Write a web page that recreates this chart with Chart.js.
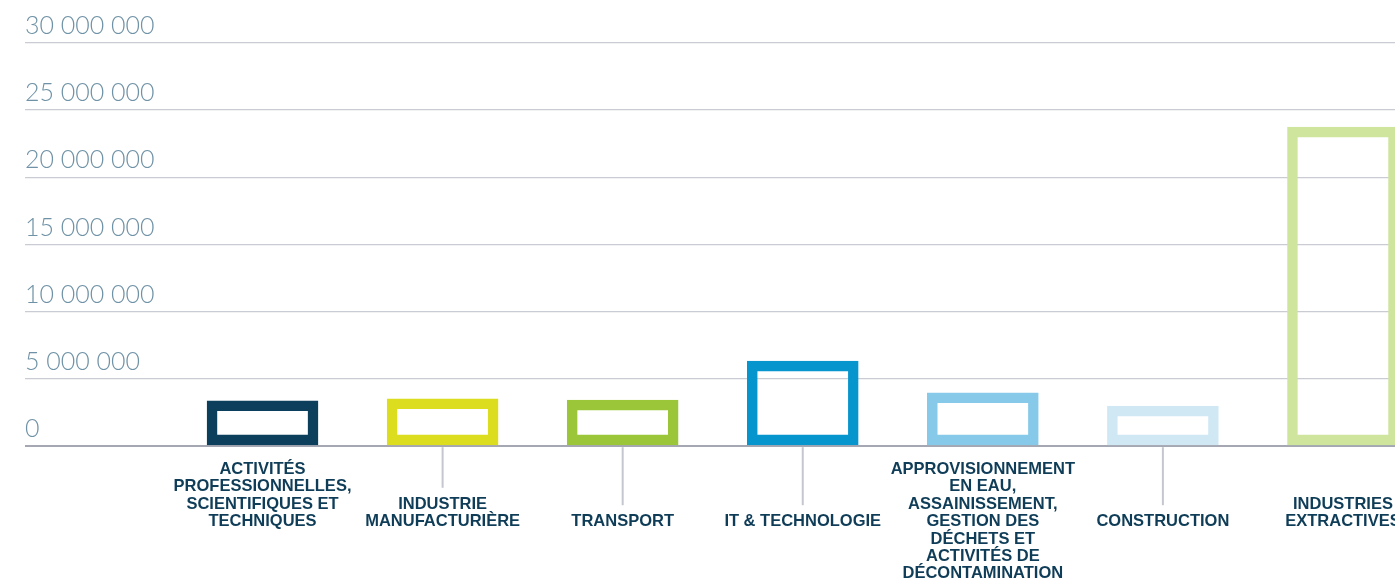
<!DOCTYPE html>
<html>
<head>
<meta charset="utf-8">
<script src="https://cdn.jsdelivr.net/npm/chart.js@4"></script>
<style>
  html, body { margin: 0; padding: 0; background: #ffffff; overflow: hidden; }
  #wrap { position: relative; width: 1433px; height: 581px; }
</style>
</head>
<body>
<div id="wrap"><canvas id="c"></canvas></div>
<script>
// ---- data ----
const categories = [
  ["ACTIVITÉS", "PROFESSIONNELLES,", "SCIENTIFIQUES ET", "TECHNIQUES"],
  ["INDUSTRIE", "MANUFACTURIÈRE"],
  ["TRANSPORT"],
  ["IT & TECHNOLOGIE"],
  ["APPROVISIONNEMENT", "EN EAU,", "ASSAINISSEMENT,", "GESTION DES", "DÉCHETS ET", "ACTIVITÉS DE", "DÉCONTAMINATION"],
  ["CONSTRUCTION"],
  ["INDUSTRIES", "EXTRACTIVES"]
];
const values = [3400000, 3550000, 3450000, 6350000, 4000000, 3000000, 23750000];
const yTicks = [0, 5000000, 10000000, 15000000, 20000000, 25000000, 30000000];
const barColors = ["#0b3f5b", "#dcdd1f", "#9bc63a", "#0795cd", "#86c9e8", "#cfe8f4", "#cfe59d"];

const LABEL_COLOR = "#0f3d58";
const LABEL_FONT = "bold 16.5px 'Liberation Sans', Arial, sans-serif";
const LINE_H = 17.4;

const fmt = v => String(Math.round(v)).replace(/\B(?=(\d{3})+(?!\d))/g, " ");

const xLabelsPlugin = {
  id: "xLabels",
  afterDraw(chart) {
    const ctx = chart.ctx;
    const xs = chart.scales.x;
    const bottom = chart.chartArea.bottom;
    const lastBaseline = bottom + 80;
    ctx.save();
    ctx.font = LABEL_FONT;
    ctx.textAlign = "center";
    ctx.textBaseline = "alphabetic";
    categories.forEach((lines, i) => {
      const x = xs.getPixelForValue(i);
      const n = lines.length;
      const shown = Math.min(n, 4);
      const firstBaseline = lastBaseline - (shown - 1) * LINE_H;
      let widest = 0;
      lines.forEach(l => { widest = Math.max(widest, ctx.measureText(l).width); });
      // leader line from the axis down to short labels
      if (n <= 2 && x + widest / 2 <= window.innerWidth) {
        ctx.strokeStyle = "#c4c7ce";
        ctx.lineWidth = 2;
        ctx.beginPath();
        ctx.moveTo(x, bottom + 1);
        ctx.lineTo(x, firstBaseline - 11.5 - 9.5);
        ctx.stroke();
      }
      ctx.fillStyle = LABEL_COLOR;
      lines.forEach((l, k) => ctx.fillText(l, x, firstBaseline + k * LINE_H));
    });
    ctx.restore();
  }
};

new Chart(document.getElementById("c"), {
  type: "bar",
  data: {
    labels: categories.map(l => l.join(" ")),
    datasets: [{
      data: values,
      borderColor: barColors,
      backgroundColor: "rgba(255,255,255,0)",
      borderWidth: 10.5,
      borderSkipped: false,
      barPercentage: 0.62,
      categoryPercentage: 1.0
    }]
  },
  options: {
    responsive: true,
    maintainAspectRatio: false,
    animation: false,
    devicePixelRatio: 1,
    layout: { padding: { left: 25, right: 0, top: 42.7, bottom: 134.8 } },
    plugins: { legend: { display: false }, tooltip: { enabled: false } },
    scales: {
      x: {
        display: true,
        grid: { display: false },
        border: { display: false },
        ticks: { display: false },
        afterFit: s => { s.height = 0; }
      },
      y: {
        min: 0,
        max: 30000000,
        afterBuildTicks: s => { s.ticks = yTicks.map(v => ({ value: v })); },
        afterFit: s => { s.width = 147.5; },
        border: { display: false },
        grid: {
          drawTicks: true,
          tickLength: 147.5,
          color: c => (c.tick && c.tick.value === 0) ? "#a5a8b2" : "#c9ccd3",
          lineWidth: c => (c.tick && c.tick.value === 0) ? 2 : 1.3
        },
        ticks: {
          crossAlign: "far",
          padding: 0,
          labelOffset: -17,
          color: "#6f92a6",
          font: { family: "Lato, 'Open Sans', sans-serif", size: 25, weight: 300 },
          callback: v => fmt(v)
        }
      }
    }
  },
  plugins: [xLabelsPlugin]
});
</script>
</body>
</html>
